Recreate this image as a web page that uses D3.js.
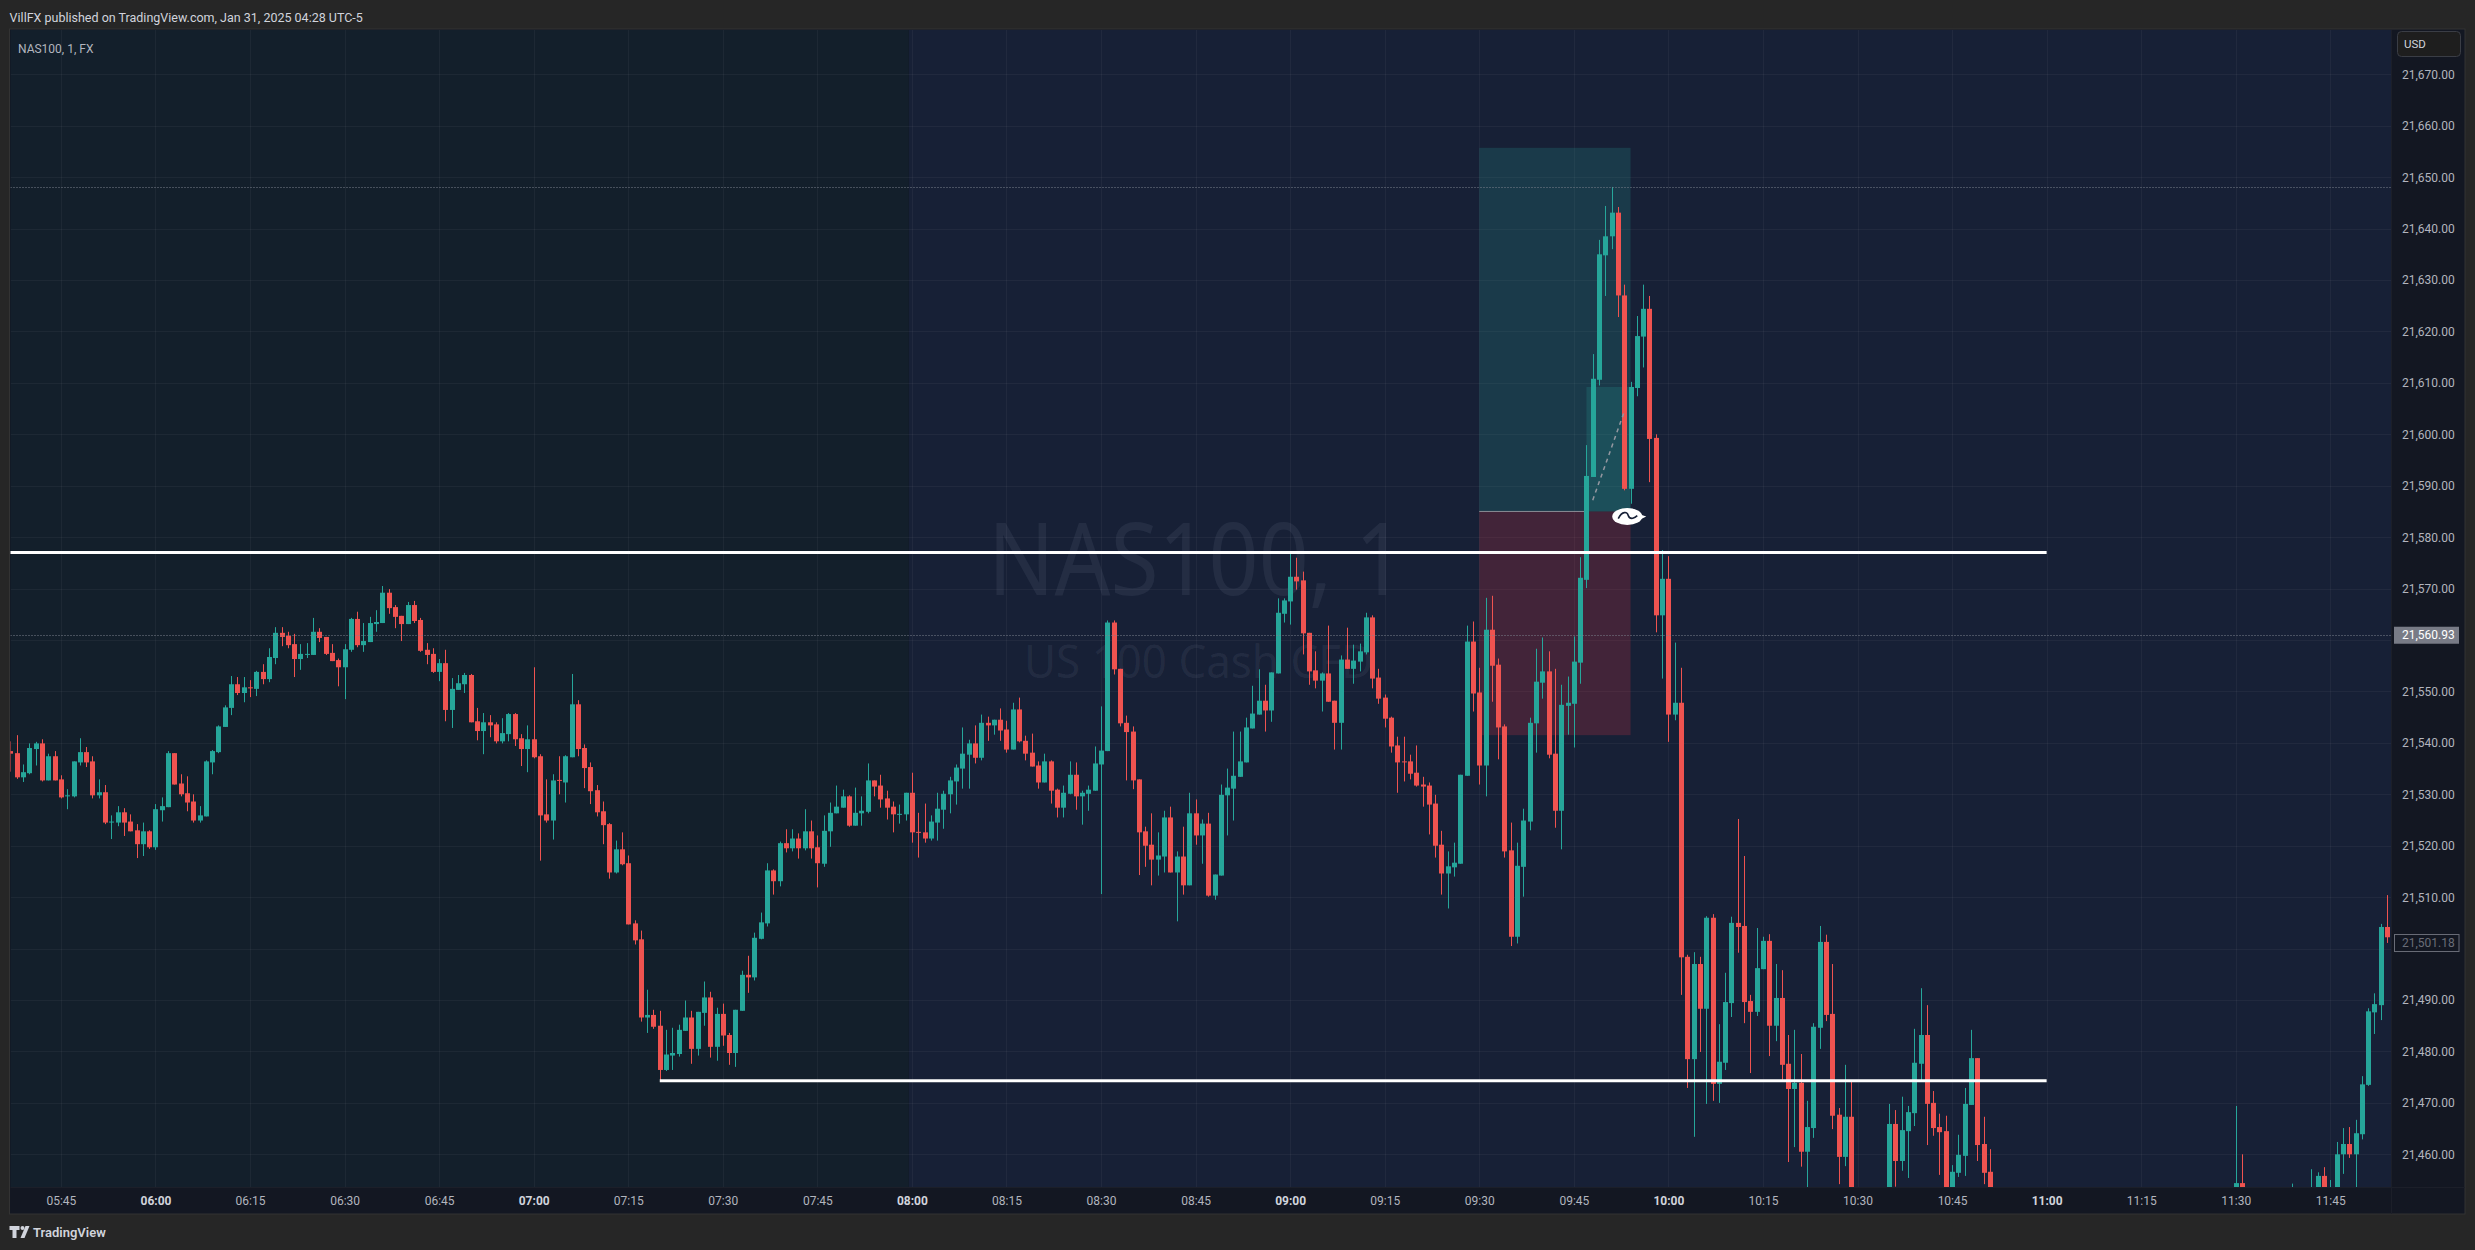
<!DOCTYPE html>
<html><head><meta charset="utf-8">
<script src="https://cdn.jsdelivr.net/npm/d3@7"></script>
<style>
html,body{margin:0;padding:0;background:#262626;}
svg{display:block;}
text{font-family:Roboto,"Liberation Sans",sans-serif;}
</style></head><body>
<svg id="chart" width="2475" height="1250"></svg>
<script>
// ---------------- DATA ----------------
const candleTimes = [
"05:37","05:38","05:39","05:40","05:41","05:42","05:43","05:44","05:45","05:46","05:47","05:48","05:49","05:50","05:51","05:52","05:53","05:54","05:55","05:56","05:57","05:58","05:59",
"06:00","06:01","06:02","06:03","06:04","06:05","06:06","06:07","06:08","06:09","06:10","06:11","06:12","06:13","06:14","06:15","06:16","06:17","06:18","06:19","06:20","06:21","06:22","06:23","06:24","06:25","06:26","06:27","06:28","06:29","06:30","06:31","06:32","06:33","06:34","06:35","06:36","06:37","06:38","06:39","06:40","06:41","06:42","06:43","06:44","06:45","06:46","06:47","06:48","06:49","06:50","06:51","06:52","06:53","06:54","06:55","06:56","06:57","06:58","06:59",
"07:00","07:01","07:02","07:03","07:04","07:05","07:06","07:07","07:08","07:09","07:10","07:11","07:12","07:13","07:14","07:15","07:16","07:17","07:18","07:19","07:20","07:21","07:22","07:23","07:24","07:25","07:26","07:27","07:28","07:29","07:30","07:31","07:32","07:33","07:34","07:35","07:36","07:37","07:38","07:39","07:40","07:41","07:42","07:43","07:44","07:45","07:46","07:47","07:48","07:49","07:50","07:51","07:52","07:53","07:54","07:55","07:56","07:57","07:58","07:59",
"08:00","08:01","08:02","08:03","08:04","08:05","08:06","08:07","08:08","08:09","08:10","08:11","08:12","08:13","08:14","08:15","08:16","08:17","08:18","08:19","08:20","08:21","08:22","08:23","08:24","08:25","08:26","08:27","08:28","08:29","08:30","08:31","08:32","08:33","08:34","08:35","08:36","08:37","08:38","08:39","08:40","08:41","08:42","08:43","08:44","08:45","08:46","08:47","08:48","08:49","08:50","08:51","08:52","08:53","08:54","08:55","08:56","08:57","08:58","08:59",
"09:00","09:01","09:02","09:03","09:04","09:05","09:06","09:07","09:08","09:09","09:10","09:11","09:12","09:13","09:14","09:15","09:16","09:17","09:18","09:19","09:20","09:21","09:22","09:23","09:24","09:25","09:26","09:27","09:28","09:29","09:30","09:31","09:32","09:33","09:34","09:35","09:36","09:37","09:38","09:39","09:40","09:41","09:42","09:43","09:44","09:45","09:46","09:47","09:48","09:49","09:50","09:51","09:52","09:53","09:54","09:55","09:56","09:57","09:58","09:59",
"10:00","10:01","10:02","10:03","10:04","10:05","10:06","10:07","10:08","10:09","10:10","10:11","10:12","10:13","10:14","10:15","10:16","10:17","10:18","10:19","10:20","10:21","10:22","10:23","10:24","10:25","10:26","10:27","10:28","10:29",
"10:35","10:36","10:37","10:38","10:39","10:40","10:41","10:42","10:43","10:44","10:45","10:46","10:47","10:48","10:49","10:50","10:51",
"11:30","11:31","11:39","11:42","11:43","11:44","11:45","11:46","11:47","11:48","11:49","11:50","11:51","11:52","11:53","11:54","11:55"
];
const openPrices = [
21538.4,21538.0,21533.3,21534.1,21538.8,21539.9,21532.7,21537.4,21532.9,21529.6,21529.6,21536.2,21538.2,21536.4,21529.8,21530.4,21524.6,21524.5,21526.5,21524.7,21523.0,21520.3,21522.8,
21519.7,21526.9,21527.5,21538.0,21532.1,21530.2,21528.6,21524.9,21525.7,21536.2,21538.2,21543.1,21546.8,21551.4,21549.7,21550.8,21550.5,21553.8,21552.4,21556.5,21561.4,21560.8,21559.2,21556.3,21557.2,21557.1,21561.6,21560.6,21557.5,21556.1,21554.7,21558.1,21564.1,21559.0,21559.6,21563.1,21563.3,21569.2,21566.4,21564.7,21563.1,21566.8,21563.9,21558.1,21557.3,21553.8,21555.5,21546.4,21550.3,21551.4,21553.2,21544.2,21542.3,21544.0,21543.6,21540.3,21541.7,21545.6,21540.9,21538.8,
21540.7,21537.4,21526.1,21524.9,21532.8,21532.3,21537.2,21547.5,21539.0,21535.3,21530.8,21526.7,21524.2,21514.8,21519.3,21516.6,21504.9,21501.8,21486.6,21487.1,21485.0,21476.4,21479.2,21479.5,21484.0,21486.6,21480.5,21487.5,21490.5,21480.9,21487.3,21483.2,21479.7,21487.9,21494.9,21494.4,21501.9,21504.9,21515.2,21513.1,21520.5,21519.5,21521.4,21519.5,21522.8,21519.7,21516.5,21522.8,21526.3,21527.4,21529.6,21523.9,21526.3,21526.6,21532.7,21531.7,21529.2,21527.6,21526.0,21526.1,
21530.3,21522.7,21522.6,21521.4,21524.5,21527.0,21530.0,21532.5,21535.0,21537.7,21539.9,21537.1,21543.9,21543.4,21544.5,21542.6,21538.7,21546.5,21540.4,21538.1,21535.6,21532.3,21536.4,21530.9,21527.4,21530.1,21533.8,21529.6,21530.1,21530.7,21535.8,21538.4,21563.4,21554.4,21543.9,21542.2,21532.9,21522.8,21520.2,21517.3,21517.9,21525.5,21514.8,21517.9,21512.3,21526.3,21522.0,21524.3,21510.3,21514.2,21529.8,21531.1,21533.4,21536.2,21542.8,21545.5,21548.2,21546.3,21553.5,21565.1,
21567.5,21572.3,21571.6,21561.4,21554.1,21552.1,21553.5,21548.2,21543.9,21556.2,21554.4,21555.8,21557.6,21564.4,21552.7,21548.8,21544.9,21539.5,21536.4,21536.4,21534.2,21531.9,21531.7,21528.2,21520.2,21514.6,21515.8,21516.5,21533.6,21559.7,21549.8,21535.6,21562.0,21555.2,21543.2,21519.1,21502.3,21515.9,21524.7,21543.8,21551.7,21553.9,21537.9,21526.8,21547.2,21547.6,21555.6,21571.7,21591.7,21610.6,21634.8,21638.5,21643.1,21627.0,21589.4,21609.0,21619.0,21624.4,21599.3,21564.8,
21571.9,21545.5,21547.8,21498.4,21478.5,21497.0,21488.3,21506.0,21473.7,21477.8,21489.4,21505.0,21504.4,21489.8,21487.7,21496.0,21501.5,21485.0,21490.4,21477.6,21472.7,21473.9,21460.5,21465.1,21484.6,21501.3,21487.3,21467.7,21459.5,21467.3,
21449.5,21465.9,21458.7,21464.5,21468.0,21477.6,21483.2,21470.0,21465.3,21464.5,21450.5,21456.4,21459.7,21469.6,21478.7,21462.0,21456.6,
21450.0,21454.4,21449.0,21450.0,21452.0,21455.8,21450.0,21452.0,21460.0,21462.0,21460.0,21463.9,21473.5,21487.6,21489.0,21504.2,21502.4
];
const highPrices = [
21540.3,21541.5,21535.8,21539.9,21540.2,21540.7,21537.9,21538.4,21533.7,21531.0,21536.4,21540.9,21539.2,21537.4,21532.9,21531.8,21525.9,21527.7,21527.3,21526.1,21524.2,21524.5,21523.0,
21528.1,21529.4,21538.4,21538.0,21533.9,21533.5,21530.0,21527.7,21536.6,21538.6,21543.4,21547.3,21553.0,21552.8,21552.8,21552.2,21554.0,21555.3,21558.4,21562.5,21562.5,21561.6,21561.2,21559.2,21559.4,21564.3,21562.3,21560.6,21559.2,21556.4,21559.2,21564.3,21565.5,21563.3,21564.5,21565.8,21570.5,21569.9,21566.8,21564.7,21567.4,21567.6,21564.3,21559.4,21558.4,21556.3,21558.1,21552.6,21553.2,21553.6,21553.4,21546.8,21545.8,21545.4,21544.0,21544.8,21545.8,21545.8,21541.7,21543.4,
21554.7,21537.8,21532.9,21533.9,21537.4,21537.6,21553.4,21548.3,21539.7,21536.2,21531.8,21528.6,21524.4,21521.0,21522.6,21518.1,21505.5,21503.5,21492.0,21488.1,21487.9,21484.2,21484.6,21485.2,21489.9,21487.9,21487.7,21493.6,21491.6,21488.5,21489.3,21483.6,21488.1,21495.7,21498.6,21503.1,21507.0,21516.6,21515.4,21520.8,21523.2,21523.2,21522.4,21527.1,21524.9,21522.0,21525.9,21528.4,21531.7,21530.9,21529.8,21531.3,21529.6,21536.0,21532.7,21533.8,21530.7,21528.6,21528.0,21530.3,
21534.2,21526.4,21528.2,21525.9,21530.3,21530.7,21533.4,21535.8,21543.0,21540.6,21543.4,21545.5,21545.1,21544.5,21546.7,21544.3,21547.8,21548.8,21541.4,21541.8,21536.4,21537.9,21536.6,21531.1,21531.7,21536.4,21536.2,21530.7,21531.7,21539.3,21547.1,21563.8,21563.8,21554.4,21545.3,21543.2,21532.9,21523.7,21526.3,21522.6,21526.8,21527.6,21518.9,21523.7,21530.3,21529.0,21525.1,21526.4,21514.4,21531.9,21535.0,21542.2,21542.2,21544.9,21551.1,21554.3,21551.3,21553.7,21568.1,21568.1,
21577.0,21576.0,21573.3,21561.4,21557.8,21553.7,21562.8,21548.2,21557.0,21562.4,21559.1,21559.3,21565.3,21564.8,21554.4,21549.4,21545.1,21541.2,21541.2,21537.7,21539.5,21533.4,21532.3,21529.9,21522.9,21518.9,21520.6,21533.8,21562.8,21563.6,21554.6,21568.2,21568.6,21556.4,21543.6,21524.5,21520.6,21527.2,21544.9,21558.3,21560.5,21557.8,21554.4,21551.3,21552.9,21560.7,21576.1,21597.9,21615.6,21637.8,21644.4,21648.1,21644.2,21629.1,21610.2,21623.0,21629.1,21626.9,21600.0,21577.5,
21576.3,21559.5,21554.6,21498.8,21499.3,21498.4,21506.3,21506.7,21485.3,21495.3,21506.2,21525.2,21518.0,21491.0,21504.0,21502.3,21502.8,21497.0,21495.8,21483.2,21484.2,21479.5,21470.4,21485.5,21504.4,21502.7,21497.0,21469.0,21477.4,21474.3,
21469.8,21468.6,21471.2,21469.4,21484.4,21492.3,21489.0,21472.3,21467.9,21467.5,21457.9,21463.8,21472.9,21484.2,21478.7,21467.3,21461.0,
21469.4,21460.0,21454.3,21457.1,21456.5,21457.5,21455.0,21462.4,21465.1,21465.3,21466.7,21475.2,21488.4,21491.3,21504.8,21510.4,21502.6
];
const lowPrices = [
21534.4,21533.0,21532.4,21533.9,21535.6,21532.5,21532.7,21532.7,21529.2,21527.1,21529.4,21535.6,21535.3,21529.2,21529.2,21524.2,21521.3,21523.8,21521.9,21522.8,21517.6,21518.0,21519.4,
21519.2,21524.7,21527.5,21531.9,21529.6,21526.7,21524.5,21524.5,21525.7,21533.9,21538.0,21543.1,21545.4,21549.3,21547.9,21548.9,21549.1,21551.4,21551.8,21555.3,21558.8,21558.4,21552.8,21554.2,21556.5,21557.1,21559.6,21557.1,21555.9,21551.0,21548.5,21557.7,21558.6,21557.7,21559.6,21561.6,21563.3,21565.1,21562.3,21559.8,21563.1,21563.3,21557.7,21555.3,21553.6,21552.0,21544.2,21542.9,21550.3,21549.7,21544.0,21540.5,21537.8,21541.1,21539.9,21539.9,21540.3,21539.4,21535.5,21534.3,
21537.0,21517.1,21524.5,21521.2,21530.0,21528.4,21537.2,21537.4,21531.2,21528.1,21525.7,21520.3,21513.6,21514.6,21516.2,21504.7,21500.8,21485.8,21483.6,21484.4,21474.3,21476.2,21476.4,21479.0,21484.0,21477.6,21479.2,21485.0,21478.8,21478.2,21481.1,21477.4,21477.0,21487.9,21491.4,21493.8,21501.8,21504.3,21510.5,21512.1,21518.7,21518.9,21517.5,21519.1,21517.5,21511.9,21515.9,21519.8,21526.3,21527.4,21523.7,21523.9,21523.9,21526.3,21529.6,21527.4,21525.1,21522.6,21524.3,21524.9,
21520.6,21517.7,21520.6,21521.0,21521.0,21523.3,21526.3,21528.0,21531.1,21531.1,21536.0,21536.6,21540.4,21541.6,21540.4,21538.1,21538.7,21540.1,21536.6,21535.4,21531.1,21532.3,21528.2,21525.5,21525.5,21530.0,21527.0,21524.1,21526.8,21530.7,21510.6,21538.4,21553.3,21543.2,21532.7,21531.0,21514.3,21515.9,21512.3,21514.2,21514.8,21514.8,21505.3,21510.5,21512.3,21520.2,21516.5,21510.1,21509.5,21514.2,21522.0,21524.9,21533.4,21536.2,21542.8,21545.5,21542.2,21544.1,21553.5,21563.4,
21563.0,21569.8,21557.2,21551.3,21550.6,21546.1,21548.0,21538.7,21538.7,21554.4,21551.5,21553.9,21557.2,21550.6,21547.6,21543.0,21538.1,21530.3,21532.5,21532.9,21531.5,21527.6,21522.2,21517.7,21510.5,21507.8,21514.0,21516.5,21533.6,21546.1,21531.9,21529.6,21548.0,21536.8,21517.7,21500.5,21501.0,21510.1,21523.0,21538.1,21548.6,21537.0,21523.5,21519.3,21541.6,21539.1,21551.5,21570.1,21591.7,21609.5,21626.9,21636.0,21622.8,21589.1,21586.5,21607.4,21613.0,21590.7,21561.5,21552.5,
21540.2,21544.4,21491.0,21472.9,21463.4,21479.9,21469.8,21470.4,21470.0,21476.4,21486.7,21499.2,21485.5,21475.8,21486.9,21496.0,21479.1,21482.0,21474.5,21458.5,21461.4,21457.6,21450.0,21463.2,21480.5,21485.9,21464.9,21454.2,21457.7,21446.0,
21447.0,21453.7,21456.8,21455.4,21465.5,21474.3,21461.8,21463.6,21456.0,21448.0,21448.5,21455.6,21455.8,21469.6,21458.7,21454.2,21448.0,
21448.0,21447.0,21446.0,21447.0,21449.0,21449.0,21447.0,21450.0,21456.2,21459.3,21450.0,21462.9,21473.3,21483.4,21486.1,21501.1,21500.7
];
const closePrices = [
21537.9,21533.3,21534.3,21539.0,21539.9,21532.7,21537.4,21532.7,21529.4,21529.8,21536.4,21538.2,21536.2,21529.8,21530.4,21524.5,21524.7,21526.5,21524.5,21522.8,21520.3,21522.8,21519.7,
21527.1,21527.7,21538.0,21531.9,21530.0,21528.4,21524.9,21525.9,21536.4,21538.4,21543.2,21546.9,21551.4,21549.7,21550.8,21550.7,21553.8,21552.4,21556.7,21561.4,21560.6,21559.0,21556.3,21557.3,21557.3,21561.6,21560.4,21557.3,21555.9,21554.7,21558.2,21564.1,21559.0,21559.8,21563.3,21563.5,21569.2,21566.2,21564.5,21563.1,21566.8,21563.7,21557.9,21557.1,21553.8,21555.5,21546.4,21550.5,21551.6,21553.2,21544.0,21542.3,21544.0,21543.4,21540.3,21541.9,21545.6,21540.7,21538.8,21540.7,
21537.2,21525.9,21524.9,21532.7,21532.7,21537.4,21547.5,21538.8,21535.1,21530.6,21526.5,21524.0,21514.8,21519.3,21516.4,21504.7,21501.6,21486.6,21487.1,21484.8,21476.4,21479.4,21479.7,21484.2,21486.6,21480.5,21487.7,21490.5,21480.9,21487.3,21483.1,21479.7,21488.1,21494.9,21494.4,21502.1,21505.1,21515.2,21513.1,21520.5,21519.5,21521.4,21519.5,21522.8,21519.5,21516.6,21522.9,21526.4,21527.6,21529.6,21523.9,21526.4,21526.8,21532.7,21531.5,21529.0,21527.4,21526.1,21526.2,21530.3,
21522.6,21522.5,21521.4,21524.7,21527.2,21530.1,21532.7,21535.2,21537.9,21539.9,21537.1,21543.9,21543.4,21544.5,21542.4,21538.7,21546.5,21540.3,21537.9,21535.4,21532.3,21536.4,21530.7,21527.4,21530.3,21533.8,21529.6,21530.3,21530.9,21536.0,21538.5,21563.4,21554.3,21543.8,21542.1,21532.7,21522.6,21520.0,21517.3,21518.1,21525.5,21514.8,21517.9,21512.3,21526.3,21522.0,21524.3,21510.3,21514.4,21529.9,21531.3,21533.6,21536.4,21543.0,21545.7,21548.2,21546.3,21553.7,21565.3,21567.7,
21572.3,21571.4,21561.3,21553.9,21552.1,21553.5,21548.0,21543.9,21556.2,21554.4,21556.0,21557.8,21564.4,21552.5,21548.6,21544.7,21539.3,21536.2,21536.3,21534.0,21531.7,21531.5,21528.0,21520.0,21514.6,21516.0,21516.7,21533.8,21559.7,21549.6,21535.6,21562.0,21555.0,21543.0,21518.9,21502.3,21516.1,21524.9,21543.9,21551.9,21553.9,21537.7,21526.8,21547.4,21547.8,21555.8,21572.1,21591.9,21610.8,21635.0,21638.5,21643.1,21627.0,21589.4,21609.2,21619.1,21624.4,21599.1,21564.8,21571.9,
21545.5,21547.8,21498.3,21478.5,21497.0,21488.3,21506.0,21473.7,21478.0,21489.6,21505.0,21504.2,21489.6,21487.7,21496.2,21501.5,21485.0,21490.4,21477.4,21472.7,21473.9,21460.5,21465.3,21484.8,21501.3,21487.1,21467.5,21459.5,21467.3,21449.0,
21465.9,21458.7,21464.7,21468.2,21477.8,21483.2,21469.8,21465.1,21464.3,21450.5,21456.6,21459.9,21469.8,21478.7,21461.8,21456.4,21450.0,
21454.4,21450.0,21451.0,21452.0,21455.8,21452.0,21452.0,21460.0,21462.0,21460.0,21464.1,21473.6,21487.8,21489.2,21504.2,21502.2,21501.18
];

// axis ticks
const timeTicks = ["05:45","06:00","06:15","06:30","06:45","07:00","07:15","07:30","07:45","08:00","08:15","08:30","08:45","09:00","09:15","09:30","09:45","10:00","10:15","10:30","10:45","11:00","11:15","11:30","11:45"];
const gridPrices = [21460,21470,21480,21490,21500,21510,21520,21530,21540,21550,21560,21570,21580,21590,21600,21610,21620,21630,21640,21650,21660,21670];
const priceTickLabels = [21460,21470,21480,21490,21510,21520,21530,21540,21550,21570,21580,21590,21600,21610,21620,21630,21640,21650,21660,21670];

// annotations
const levelPrices = [21577.0, 21474.3];
const levelStart = ["05:30", "07:20"];
const levelEnd = ["11:00", "11:00"];
const dottedPrices = [21648.1, 21560.93];
const sessionStart = "08:00";
const positionTimes = ["09:30", "09:54"];
const positionPrices = {target: 21655.7, entry: 21585.0, stop: 21541.5};
const openProfitTimes = ["09:47", "09:54"];
const openProfitPrices = [21585.0, 21609.2];
const connectorTimes = ["09:48", "09:53"];
const connectorPrices = [21587.2, 21604.4];
const markerTime = "09:53";
const markerPrice = 21584.0;
const lastPrice = 21501.18;
const markPrice = 21560.93;

// ---------------- DRAW ----------------
const toMin = s => +s.slice(0,2)*60 + +s.slice(3);
const svg = d3.select("#chart");
const P = {l:10.5, t:30, r:2391, b:1187};
const x = d3.scaleLinear().domain([toMin("05:45"), toMin("11:45")]).range([60.9, 2330.3]);
const y = d3.scaleLinear().domain([21460, 21670]).range([1154.3, 74.3]);
const UP = "#26a69a", DOWN = "#ef5350";

svg.append("rect").attr("width",2475).attr("height",1250).attr("fill","#262626");
// panel border + axis backgrounds
svg.append("rect").attr("x",P.l-1).attr("y",P.t-1).attr("width",2465-P.l+1).attr("height",1214-P.t+1).attr("fill","#131722").attr("stroke","#333333");
const xs = x(toMin(sessionStart)) - 3.1;
svg.append("rect").attr("x",P.l).attr("y",P.t).attr("width",xs-P.l).attr("height",P.b-P.t).attr("fill","#131f2b");
svg.append("rect").attr("x",xs).attr("y",P.t).attr("width",P.r-xs).attr("height",P.b-P.t).attr("fill","#172036");
// axis separators
svg.append("line").attr("x1",P.r+0.5).attr("x2",P.r+0.5).attr("y1",P.t).attr("y2",1214).attr("stroke","#1c1f29");
svg.append("line").attr("x1",P.l).attr("x2",2465).attr("y1",P.b+0.5).attr("y2",P.b+0.5).attr("stroke","#1c1f29");

const defs = svg.append("defs");
defs.append("clipPath").attr("id","plotclip").append("rect").attr("x",P.l).attr("y",P.t).attr("width",P.r-P.l).attr("height",P.b-P.t);
const plot = svg.append("g").attr("clip-path","url(#plotclip)");

// grid
plot.append("g").selectAll("line").data(gridPrices).join("line")
  .attr("x1",P.l).attr("x2",P.r).attr("y1",d=>Math.round(y(d))+0.5).attr("y2",d=>Math.round(y(d))+0.5)
  .attr("stroke","rgba(255,255,255,0.045)");
plot.append("g").selectAll("line").data(timeTicks).join("line")
  .attr("y1",P.t).attr("y2",P.b).attr("x1",d=>Math.round(x(toMin(d)))+0.5).attr("x2",d=>Math.round(x(toMin(d)))+0.5)
  .attr("stroke","rgba(255,255,255,0.045)");

// watermark
plot.append("text").attr("x",988).attr("y",595).attr("textLength",417).attr("lengthAdjust","spacingAndGlyphs")
  .style("font-family","'Noto Sans',sans-serif").style("font-size","100px").attr("fill","rgba(200,210,235,0.075)").text("NAS100, 1");
plot.append("text").attr("x",1024).attr("y",678).attr("textLength",349).attr("lengthAdjust","spacingAndGlyphs")
  .style("font-family","'Noto Sans',sans-serif").style("font-size","46px").attr("fill","rgba(200,210,235,0.075)").text("US 100 Cash CFD");

// position tool
const px0 = x(toMin(positionTimes[0])), px1 = x(toMin(positionTimes[1]));
plot.append("rect").attr("x",px0).attr("width",px1-px0).attr("y",y(positionPrices.target)).attr("height",y(positionPrices.entry)-y(positionPrices.target)).attr("fill","rgba(38,166,154,0.2)");
plot.append("rect").attr("x",px0).attr("width",px1-px0).attr("y",y(positionPrices.entry)).attr("height",y(positionPrices.stop)-y(positionPrices.entry)).attr("fill","rgba(242,54,69,0.2)");
const ox0 = x(toMin(openProfitTimes[0]));
plot.append("rect").attr("x",ox0).attr("width",px1-ox0).attr("y",y(openProfitPrices[1])).attr("height",y(openProfitPrices[0])-y(openProfitPrices[1])).attr("fill","rgba(38,166,154,0.2)");
plot.append("line").attr("x1",px0).attr("x2",ox0).attr("y1",y(positionPrices.entry)).attr("y2",y(positionPrices.entry)).attr("stroke","#8a8d96").attr("stroke-width",1);

// candles
const candles = candleTimes.map((t,i)=>({t:toMin(t),o:openPrices[i],h:highPrices[i],l:lowPrices[i],c:closePrices[i]}));
const cg = plot.append("g");
cg.selectAll("rect.w").data(candles).join("rect").attr("class","w")
  .attr("x",d=>Math.round(x(d.t))).attr("width",1)
  .attr("y",d=>y(d.h)).attr("height",d=>Math.max(1,y(d.l)-y(d.h)))
  .attr("fill",d=>d.c>=d.o?UP:DOWN);
cg.selectAll("rect.b").data(candles).join("rect").attr("class","b")
  .attr("x",d=>Math.round(x(d.t))-2).attr("width",5)
  .attr("y",d=>y(Math.max(d.o,d.c))).attr("height",d=>Math.max(1,Math.abs(y(d.o)-y(d.c))))
  .attr("fill",d=>d.c>=d.o?UP:DOWN);

// connector dashed
plot.append("line").attr("x1",x(toMin(connectorTimes[0]))).attr("x2",x(toMin(connectorTimes[1])))
  .attr("y1",y(connectorPrices[0])).attr("y2",y(connectorPrices[1]))
  .attr("stroke","#9598a1").attr("stroke-width",1.5).attr("stroke-dasharray","4,4");

// dotted lines
plot.append("g").selectAll("line").data(dottedPrices).join("line")
  .attr("x1",P.l).attr("x2",P.r).attr("y1",d=>Math.round(y(d))+0.5).attr("y2",d=>Math.round(y(d))+0.5)
  .attr("stroke","#7d828f").attr("stroke-width",1).attr("stroke-dasharray","1,2");

// white levels
plot.append("g").selectAll("line").data(levelPrices).join("line")
  .attr("x1",(d,i)=>x(toMin(levelStart[i]))).attr("x2",(d,i)=>x(toMin(levelEnd[i])))
  .attr("y1",d=>y(d)).attr("y2",d=>y(d)).attr("stroke","#ffffff").attr("stroke-width",3);

// marker
const mx = x(toMin(markerTime)) + 3, my = y(markerPrice);
plot.append("ellipse").attr("cx",mx).attr("cy",my).attr("rx",15).attr("ry",8.5).attr("fill","#ffffff");
plot.append("path").attr("d",`M${mx-9},${my+2} C${mx-5},${my-6} ${mx},${my-5} ${mx+1},${my-1} C${mx+3},${my+4} ${mx+8},${my+1} ${mx+10},${my-1}`)
  .attr("fill","none").attr("stroke","#172036").attr("stroke-width",1.6);
plot.append("path").attr("d",`M${mx+13},${my-2} L${mx+19},${my} L${mx+13},${my+3}`).attr("fill","#ffffff");

// axes
const xAxis = svg.append("g").attr("transform",`translate(0,${P.b})`)
  .call(d3.axisBottom(x).tickValues(timeTicks.map(toMin)).tickSize(0).tickPadding(9)
    .tickFormat(m=>String(Math.floor(m/60)).padStart(2,"0")+":"+String(m%60).padStart(2,"0")));
xAxis.select(".domain").remove();
xAxis.selectAll("text").style("font-size","12px")
  .attr("fill",m=>m%60===0?"#d1d4dc":"#b2b5be").style("font-weight",m=>m%60===0?"700":"400");

const yAxis = svg.append("g").attr("transform",`translate(${P.r},0)`)
  .call(d3.axisRight(y).tickValues(priceTickLabels).tickSize(0).tickPadding(11).tickFormat(d3.format(",.2f")));
yAxis.select(".domain").remove();
yAxis.selectAll("text").style("font-size","12px").attr("fill","#b2b5be");

// price badges
const mk = svg.append("g");
mk.append("rect").attr("x",2394).attr("y",y(markPrice)-8.5).attr("width",65).attr("height",17).attr("fill","#787b86");
mk.append("text").attr("x",2402).attr("y",y(markPrice)+4.2).style("font-size","12px").attr("fill","#ffffff").text(d3.format(",.2f")(markPrice));
const lp = svg.append("g");
lp.append("rect").attr("x",2394.5).attr("y",y(lastPrice)-8).attr("width",64.5).attr("height",17).attr("fill","none").attr("stroke","#6a6d78");
lp.append("text").attr("x",2402).attr("y",y(lastPrice)+4.7).style("font-size","12px").attr("fill","#6a6d78").text(d3.format(",.2f")(lastPrice));

// USD box
svg.append("rect").attr("x",2397.5).attr("y",31.5).attr("width",63).attr("height",25).attr("rx",4).attr("fill","#1e1e1e").attr("stroke","#3a3d45");
svg.append("text").attr("x",2404).attr("y",48).style("font-size","11.5px").attr("fill","#d1d4dc").text("USD");

// header & legend
svg.append("text").attr("x",9.6).attr("y",21.5).style("font-size","12.5px").attr("fill","#d1d4dc").text("VillFX published on TradingView.com, Jan 31, 2025 04:28 UTC-5");
svg.append("text").attr("x",18).attr("y",53).style("font-size","12px").attr("fill","#b2b5be").text("NAS100, 1, FX");

// footer logo
const lg = svg.append("g").attr("fill","#d1d4dc");
lg.append("path").attr("d","M9.5,1226 h10 v4 h-3 v8 h-4 v-8 h-3 z");
lg.append("circle").attr("cx",22.5).attr("cy",1228).attr("r",2);
lg.append("path").attr("d","M25.5,1226 h4 l-5,12 h-4 z");
svg.append("text").attr("x",33).attr("y",1236.5).style("font-size","13px").style("font-weight","600").attr("fill","#d1d4dc").text("TradingView");
</script>
</body></html>
